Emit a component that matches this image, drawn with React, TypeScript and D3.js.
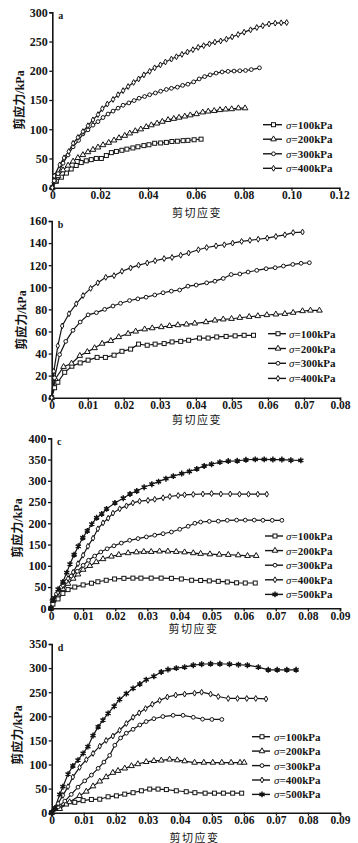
import * as d3 from 'd3';
import React, { useRef, useEffect } from 'react';

// legend labels (pressure levels)
const pressures = ['100', '200', '300', '400', '500'];
const xTitle = '剪切应变';
const yTitle = '剪应力/kPa';

// panel a  [shear strain, shear stress kPa]
const a100 = [[0, 0], [0.0017, 11], [0.0038, 18], [0.0059, 25], [0.0079, 32], [0.0100, 38], [0.0121, 43], [0.0142, 46], [0.0163, 48], [0.0184, 50], [0.0205, 50], [0.0226, 55], [0.0247, 60], [0.0268, 62], [0.0291, 64], [0.0312, 66], [0.0337, 68], [0.0358, 70], [0.0383, 72], [0.0404, 73.5], [0.0428, 76], [0.0453, 76.5], [0.0477, 77.5], [0.0500, 79], [0.0523, 79.5], [0.0547, 80.5], [0.0567, 81], [0.0593, 82], [0.0622, 83]];
const a200 = [[0, 0], [0.0010, 11], [0.0024, 20], [0.0045, 30], [0.0066, 38], [0.0087, 45], [0.0107, 51], [0.0128, 56], [0.0149, 61], [0.0170, 65], [0.0191, 69], [0.0212, 73], [0.0236, 77], [0.0258, 81], [0.0279, 85], [0.0303, 89], [0.0324, 93], [0.0347, 97], [0.0370, 100], [0.0393, 104], [0.0414, 107], [0.0438, 110], [0.0460, 113], [0.0484, 116], [0.0508, 118], [0.0530, 120], [0.0554, 122], [0.0577, 124], [0.0603, 126], [0.0629, 129], [0.0652, 130.5], [0.0677, 131.5], [0.0701, 133], [0.0725, 134], [0.0750, 134.5], [0.0778, 136], [0.0806, 136]];
const a300 = [[0, 0], [0.0008, 12], [0.0024, 24], [0.0045, 42], [0.0066, 56], [0.0087, 70], [0.0110, 81], [0.0128, 92], [0.0149, 99], [0.0170, 107], [0.0191, 113], [0.0212, 120], [0.0233, 126], [0.0254, 131], [0.0275, 136], [0.0296, 141], [0.0320, 145], [0.0342, 149], [0.0363, 153], [0.0386, 156], [0.0407, 159], [0.0431, 162], [0.0453, 165], [0.0477, 168], [0.0498, 170], [0.0523, 172], [0.0545, 175], [0.0567, 177], [0.0591, 181], [0.0614, 186], [0.0637, 190], [0.0660, 193], [0.0685, 196], [0.0710, 198], [0.0735, 199], [0.0760, 199.5], [0.0784, 200], [0.0808, 200.5], [0.0832, 202], [0.0866, 205]];
const a400 = [[0, 0], [0.0008, 20], [0.0031, 39], [0.0049, 51], [0.0069, 62], [0.0087, 76], [0.0107, 86], [0.0128, 96], [0.0149, 106], [0.0170, 116], [0.0191, 125], [0.0209, 135], [0.0230, 143], [0.0254, 151], [0.0275, 159], [0.0296, 166], [0.0317, 173], [0.0340, 180], [0.0361, 186], [0.0383, 193], [0.0407, 199], [0.0428, 205], [0.0452, 210], [0.0473, 215], [0.0498, 220], [0.0519, 224], [0.0542, 228], [0.0565, 232], [0.0588, 236], [0.0610, 240], [0.0633, 243], [0.0657, 246], [0.0680, 249], [0.0704, 251], [0.0728, 254], [0.0752, 258], [0.0777, 262], [0.0802, 266], [0.0829, 270], [0.0855, 274], [0.0880, 277], [0.0906, 280], [0.0932, 281.5], [0.0957, 282], [0.0980, 282.5]];

// panel b
const b100 = [[0, 0], [0.0008, 9], [0.0017, 14], [0.0036, 23], [0.0056, 28.5], [0.0079, 31.5], [0.0101, 34], [0.0126, 36.5], [0.0149, 36.5], [0.0173, 38.5], [0.0195, 42], [0.0219, 44], [0.0241, 48.5], [0.0265, 47.5], [0.0287, 48.5], [0.0312, 49], [0.0334, 50.5], [0.0358, 51], [0.0380, 52], [0.0410, 54], [0.0434, 54], [0.0458, 55], [0.0484, 55.5], [0.0509, 56], [0.0534, 56.5], [0.0560, 56.5]];
const b200 = [[0, 0], [0.0010, 17], [0.0033, 28], [0.0055, 31], [0.0078, 38], [0.0099, 41.5], [0.0119, 45], [0.0140, 49], [0.0164, 51.5], [0.0186, 55], [0.0212, 58], [0.0233, 60], [0.0258, 62], [0.0279, 63], [0.0304, 64], [0.0327, 65], [0.0350, 65.8], [0.0374, 66.4], [0.0397, 67.3], [0.0428, 68.5], [0.0453, 70], [0.0476, 71], [0.0499, 71.5], [0.0522, 72.4], [0.0548, 73.3], [0.0572, 74], [0.0597, 74.9], [0.0622, 75.5], [0.0647, 76], [0.0670, 77], [0.0696, 78.5], [0.0718, 79], [0.0743, 79]];
const b300 = [[0, 0], [0.0008, 18], [0.0022, 39], [0.0039, 51], [0.0059, 61], [0.0079, 68.5], [0.0101, 75], [0.0124, 77], [0.0147, 80], [0.0170, 83], [0.0191, 85.5], [0.0216, 88], [0.0239, 89.5], [0.0262, 91], [0.0286, 93], [0.0309, 95], [0.0332, 96.5], [0.0355, 97.5], [0.0378, 101], [0.0401, 102], [0.0430, 104], [0.0453, 105.5], [0.0476, 108], [0.0498, 111.5], [0.0522, 112], [0.0545, 113.8], [0.0569, 115.3], [0.0595, 116.8], [0.0620, 117.7], [0.0643, 119.2], [0.0669, 120.7], [0.0692, 121.7], [0.0715, 122.2]];
const b400 = [[0, 0], [0.0006, 24], [0.0017, 47], [0.0029, 65], [0.0048, 76], [0.0068, 85], [0.0087, 92.5], [0.0108, 99], [0.0128, 104], [0.0150, 109], [0.0173, 110.5], [0.0195, 114.5], [0.0219, 117.5], [0.0241, 120], [0.0265, 122], [0.0287, 124], [0.0312, 126], [0.0334, 127], [0.0358, 129], [0.0380, 131], [0.0407, 134], [0.0430, 136], [0.0456, 137.5], [0.0479, 138.5], [0.0502, 140], [0.0527, 141.5], [0.0550, 142.5], [0.0573, 143.5], [0.0598, 144.5], [0.0622, 146], [0.0647, 147.5], [0.0670, 149.5], [0.0696, 150]];

// panel c
const c100 = [[0, 0], [0.0006, 10], [0.0022, 22], [0.0037, 35], [0.0053, 44], [0.0074, 50], [0.0100, 55], [0.0126, 59], [0.0146, 62.5], [0.0172, 66], [0.0198, 69], [0.0227, 70.5], [0.0255, 71], [0.0280, 71], [0.0312, 71], [0.0343, 71], [0.0375, 70.5], [0.0406, 69], [0.0438, 66], [0.0466, 65.5], [0.0493, 64.5], [0.0521, 63.5], [0.0549, 62], [0.0578, 60], [0.0605, 59.5], [0.0636, 59.5]];
const c200 = [[0, 0], [0.0006, 18], [0.0022, 33], [0.0037, 46], [0.0053, 58], [0.0069, 70], [0.0084, 80], [0.0100, 91], [0.0121, 100], [0.0141, 109], [0.0162, 116], [0.0188, 122], [0.0211, 126], [0.0240, 130], [0.0266, 132], [0.0289, 133], [0.0312, 133], [0.0338, 134], [0.0364, 134], [0.0390, 133], [0.0416, 132], [0.0443, 130], [0.0466, 128.5], [0.0495, 127.5], [0.0524, 126.5], [0.0552, 126], [0.0583, 125], [0.0612, 123.5], [0.0639, 123.5]];
const c300 = [[0, 0], [0.0003, 19], [0.0017, 34], [0.0032, 50], [0.0048, 63.5], [0.0063, 76], [0.0082, 87], [0.0100, 101], [0.0117, 113], [0.0136, 123], [0.0155, 132.5], [0.0175, 140], [0.0196, 147], [0.0219, 153.5], [0.0245, 160], [0.0271, 164], [0.0297, 168], [0.0323, 172], [0.0349, 175.5], [0.0375, 179.5], [0.0401, 186], [0.0427, 193], [0.0448, 200], [0.0466, 203], [0.0493, 204.5], [0.0521, 205], [0.0549, 207], [0.0578, 207.5], [0.0605, 207.5], [0.0633, 207.5], [0.0660, 207], [0.0689, 207], [0.0719, 207]];
const c400 = [[0, 0], [0.0006, 22], [0.0022, 38], [0.0037, 54], [0.0053, 70], [0.0069, 85], [0.0084, 105], [0.0100, 125], [0.0115, 146], [0.0131, 165], [0.0146, 187], [0.0162, 201], [0.0178, 212], [0.0193, 224], [0.0214, 234], [0.0235, 241], [0.0255, 248], [0.0276, 252], [0.0302, 254], [0.0323, 256.5], [0.0349, 260], [0.0370, 263], [0.0396, 265.5], [0.0416, 267], [0.0443, 268], [0.0473, 269], [0.0500, 270], [0.0529, 269], [0.0558, 269], [0.0587, 268.5], [0.0615, 268.5], [0.0644, 268.5], [0.0672, 268.5]];
const c500 = [[0, 0], [0.0007, 20], [0.0022, 45], [0.0037, 62], [0.0049, 84], [0.0059, 104], [0.0072, 126], [0.0085, 146], [0.0099, 166], [0.0113, 182], [0.0127, 198], [0.0142, 213], [0.0158, 222], [0.0173, 234], [0.0199, 248], [0.0225, 259], [0.0246, 269], [0.0267, 276], [0.0290, 285], [0.0314, 292], [0.0335, 298], [0.0358, 305], [0.0381, 311], [0.0407, 317], [0.0431, 322], [0.0454, 328], [0.0477, 335], [0.0500, 339], [0.0526, 344], [0.0552, 346.5], [0.0580, 347], [0.0607, 349.5], [0.0636, 350.5], [0.0664, 350.5], [0.0691, 350], [0.0719, 350], [0.0747, 348.5], [0.0778, 348]];

// panel d
const d100 = [[0, 0], [0.0025, 12], [0.0046, 18], [0.0072, 21.5], [0.0098, 25], [0.0124, 27.5], [0.0150, 28], [0.0176, 33], [0.0202, 35], [0.0228, 38.5], [0.0254, 41.5], [0.0280, 45.5], [0.0306, 49], [0.0332, 49], [0.0358, 48], [0.0389, 45.5], [0.0420, 43.5], [0.0447, 41.5], [0.0479, 40.5], [0.0508, 40.5], [0.0536, 40.5], [0.0565, 40.5], [0.0593, 40.5]];
const d200 = [[0, 0], [0.0025, 8], [0.0056, 22], [0.0087, 35], [0.0108, 44], [0.0129, 55], [0.0150, 65], [0.0170, 74], [0.0191, 83], [0.0207, 87], [0.0228, 92], [0.0249, 97], [0.0269, 101], [0.0295, 105.5], [0.0319, 107.5], [0.0342, 108.5], [0.0368, 110.5], [0.0392, 109], [0.0415, 107], [0.0446, 104], [0.0475, 104], [0.0503, 104], [0.0531, 104], [0.0560, 104], [0.0588, 104], [0.0601, 104]];
const d300 = [[0, 0], [0.0020, 12], [0.0041, 24], [0.0061, 38], [0.0082, 53], [0.0103, 66], [0.0124, 78], [0.0145, 92], [0.0163, 105], [0.0181, 119], [0.0197, 140], [0.0215, 155], [0.0233, 165], [0.0254, 173], [0.0275, 182], [0.0295, 189], [0.0319, 195], [0.0347, 199.5], [0.0379, 202], [0.0410, 202], [0.0442, 198], [0.0471, 194], [0.0500, 193.5], [0.0531, 193.5]];
const d400 = [[0, 0], [0.0020, 19], [0.0035, 36], [0.0051, 54], [0.0066, 74], [0.0087, 94], [0.0108, 110], [0.0129, 123], [0.0150, 138], [0.0170, 150], [0.0191, 159], [0.0212, 171], [0.0233, 185], [0.0254, 198], [0.0273, 207], [0.0293, 216], [0.0314, 225], [0.0337, 233], [0.0361, 240], [0.0387, 244], [0.0415, 246], [0.0446, 248], [0.0468, 250], [0.0496, 246], [0.0520, 241], [0.0551, 237], [0.0580, 237], [0.0609, 237], [0.0637, 237], [0.0669, 236]];
const d500 = [[0, 0], [0.0010, 10], [0.0025, 38], [0.0035, 54], [0.0051, 80], [0.0066, 97], [0.0082, 109], [0.0098, 123], [0.0113, 137], [0.0129, 160], [0.0145, 178], [0.0160, 192], [0.0176, 206], [0.0195, 221], [0.0212, 235], [0.0233, 247], [0.0254, 258], [0.0275, 267], [0.0295, 276], [0.0319, 283], [0.0342, 292], [0.0363, 297], [0.0389, 300], [0.0415, 302], [0.0442, 306], [0.0468, 308], [0.0496, 309], [0.0525, 309], [0.0555, 308], [0.0583, 307], [0.0611, 306], [0.0645, 302], [0.0676, 296.5], [0.0704, 296.5], [0.0734, 296.5], [0.0763, 296.5]];

const markers = ['square', 'triangle', 'circle', 'diamond', 'asterisk'];

// layout of the four stacked panels (pixels)
const panels = [
  { tag: 'a', series: [a100, a200, a300, a400], x0: 52.3, x1: 339.3, yb: 187.7, yt: 12.3, xMax: 0.12, xTicks: 6, yMax: 300, yTicks: 6,
    legX: 263, legLen: 19, legTx: 286, legY: [124.7, 139.2, 153.8, 168.3], yTitleX: 20, yTitleY: 100, xTitleX: 197, xTitleY: 217 },
  { tag: 'b', series: [b100, b200, b300, b400], x0: 51.7, x1: 340, yb: 397.7, yt: 221, xMax: 0.08, xTicks: 8, yMax: 160, yTicks: 8,
    legX: 268, legLen: 18, legTx: 289, legY: [333.7, 348.5, 363.3, 378.4], yTitleX: 22, yTitleY: 320, xTitleX: 197, xTitleY: 424 },
  { tag: 'c', series: [c100, c200, c300, c400, c500], x0: 51, x1: 340, yb: 608.3, yt: 438.3, xMax: 0.09, xTicks: 9, yMax: 400, yTicks: 8,
    legX: 265, legLen: 18, legTx: 286, legY: [536, 550.6, 565.2, 579.8, 594.4], yTitleX: 17.5, yTitleY: 528, xTitleX: 193.5, xTitleY: 633 },
  { tag: 'd', series: [d100, d200, d300, d400, d500], x0: 51.7, x1: 340, yb: 812.7, yt: 644, xMax: 0.09, xTicks: 9, yMax: 350, yTicks: 7,
    legX: 252, legLen: 18, legTx: 274, legY: [736.7, 751.1, 765.6, 780, 794.4], yTitleX: 17.5, yTitleY: 735, xTitleX: 194.5, xTitleY: 841.5 },
];

const ink = '#151515';
const serif = '"Liberation Serif", "Times New Roman", serif';
const serifCjk = '"Liberation Serif", "Noto Sans CJK SC", serif';

function drawMarker(g, kind, x, y) {
  if (kind === 'square') {
    g.append('rect').attr('x', x - 2).attr('y', y - 2).attr('width', 4).attr('height', 4)
      .attr('fill', '#fff').attr('stroke', ink).attr('stroke-width', 1);
  } else if (kind === 'circle') {
    g.append('circle').attr('cx', x).attr('cy', y).attr('r', 1.9)
      .attr('fill', '#fff').attr('stroke', ink).attr('stroke-width', 1);
  } else if (kind === 'triangle') {
    g.append('path').attr('d', d3.symbol(d3.symbolTriangle, 14)()).attr('transform', `translate(${x},${y})`)
      .attr('fill', '#fff').attr('stroke', ink).attr('stroke-width', 1);
  } else if (kind === 'diamond') {
    g.append('path').attr('d', d3.symbol(d3.symbolDiamond, 10)()).attr('transform', `translate(${x},${y})`)
      .attr('fill', '#fff').attr('stroke', ink).attr('stroke-width', 1);
  } else {
    g.append('path').attr('d', d3.symbol(d3.symbolAsterisk, 24)()).attr('transform', `translate(${x},${y})`)
      .attr('fill', 'none').attr('stroke', ink).attr('stroke-width', 1.5);
    g.append('rect').attr('x', x - 1.2).attr('y', y - 1.2).attr('width', 2.4).attr('height', 2.4).attr('fill', ink);
  }
}

function Charts() {
  const ref = useRef(null);

  useEffect(() => {
    const svg = d3.select(ref.current);
    svg.selectAll('*').remove();

    panels.forEach((p) => {
      const x = d3.scaleLinear().domain([0, p.xMax]).range([p.x0, p.x1]);
      const y = d3.scaleLinear().domain([0, p.yMax]).range([p.yb, p.yt]);
      const g = svg.append('g');

      const fmt = (d) => (d === 0 ? '0' : d3.format('.2f')(d));
      const xa = g.append('g').attr('transform', `translate(0,${p.yb})`)
        .call(d3.axisBottom(x).ticks(p.xTicks).tickFormat(fmt).tickSizeOuter(0).tickSize(3).tickPadding(0.5));
      const ya = g.append('g').attr('transform', `translate(${p.x0},0)`)
        .call(d3.axisLeft(y).ticks(p.yTicks).tickSizeOuter(0).tickSize(3).tickPadding(1.5));
      [xa, ya].forEach((a) => {
        a.select('.domain').attr('stroke', ink).attr('stroke-width', 1.6);
        a.selectAll('.tick line').attr('stroke', ink).attr('stroke-width', 1.3);
        a.selectAll('.tick text').attr('fill', ink).attr('font-family', serif)
          .attr('font-weight', 'bold').attr('font-size', 12);
      });
      xa.selectAll('.tick text').attr('font-size', 11.5);

      // panel tag
      g.append('text').attr('x', p.x0 + 6).attr('y', p.yt + 7).attr('font-family', serif)
        .attr('font-weight', 'bold').attr('font-size', 10).attr('fill', ink).text(p.tag);

      // axis titles
      g.append('text').attr('x', p.xTitleX).attr('y', p.xTitleY).attr('text-anchor', 'middle')
        .attr('font-family', serifCjk).attr('font-size', 11).attr('fill', ink)
        .attr('letter-spacing', 1.5).text(xTitle);
      g.append('text').attr('transform', `translate(${p.yTitleX},${p.yTitleY}) rotate(-90)`)
        .attr('text-anchor', 'middle').attr('dy', '0.35em')
        .attr('font-family', serifCjk).attr('font-weight', 'bold')
        .attr('font-size', 12).attr('fill', ink).text(yTitle);

      const line = d3.line().x((d) => x(d[0])).y((d) => y(d[1]));

      p.series.forEach((s) => {
        g.append('path').attr('d', line(s)).attr('fill', 'none').attr('stroke', ink).attr('stroke-width', 1.2);
      });
      p.series.forEach((s, i) => {
        const mg = g.append('g');
        s.forEach((d) => drawMarker(mg, markers[i], x(d[0]), y(d[1])));
      });

      // legend
      p.series.forEach((s, i) => {
        const ly = p.legY[i];
        g.append('line').attr('x1', p.legX).attr('x2', p.legX + p.legLen).attr('y1', ly).attr('y2', ly)
          .attr('stroke', ink).attr('stroke-width', 1.4);
        drawMarker(g, markers[i], p.legX + p.legLen / 2 + 1, ly);
        const t = g.append('text').attr('x', p.legTx).attr('y', ly + 4).attr('font-family', serif)
          .attr('font-weight', 'bold').attr('font-size', 11).attr('fill', ink);
        t.append('tspan').attr('font-style', 'italic').attr('font-weight', 'normal').text('σ');
        t.append('tspan').text(`=${pressures[i]}kPa`);
      });
    });
  }, []);

  return (
    <svg ref={ref} width={358} height={843}
      style={{ position: 'absolute', left: 0, top: 0, background: '#fff' }} />
  );
}

export default function App() {
  return <Charts />;
}
